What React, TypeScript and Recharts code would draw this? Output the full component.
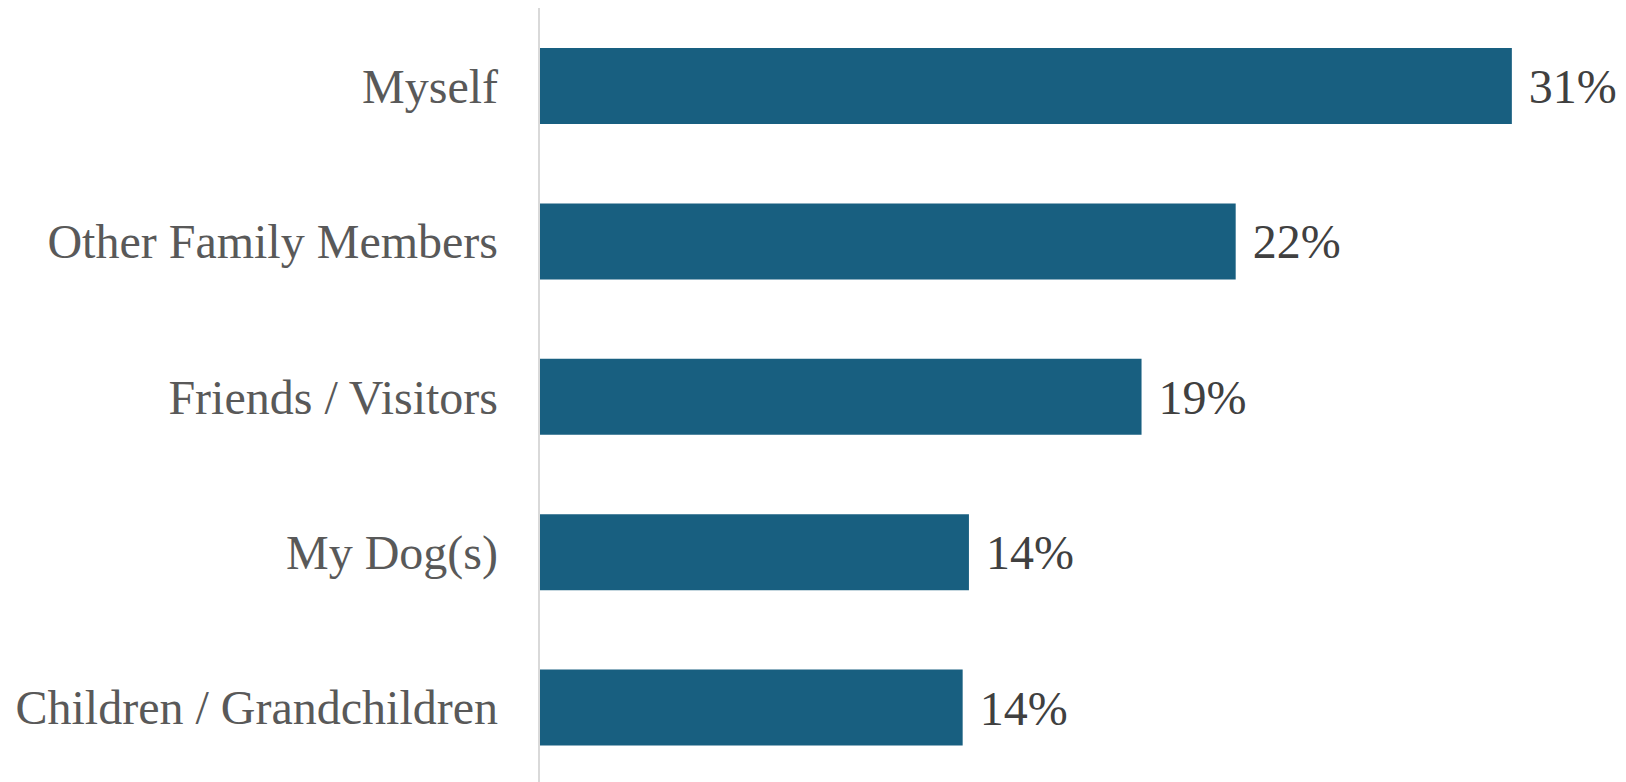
import React from 'react';
import { BarChart, Bar, XAxis, YAxis, LabelList } from 'recharts';

const categories = ['Myself', 'Other Family Members', 'Friends / Visitors', 'My Dog(s)', 'Children / Grandchildren'];
const shares = [31, 22.2, 19.2, 13.7, 13.5];

const data = categories.map((name, i) => ({ name, share: shares[i] }));

const FONT = '"Liberation Serif", "Times New Roman", serif';

export default function App() {
  return (
    <div style={{ position: 'absolute', top: 0, left: 0, width: 1626, height: 782, overflow: 'hidden', background: '#fff' }}>
      <BarChart
        width={1626}
        height={785}
        data={data}
        layout="vertical"
        margin={{ top: 8, right: 20, bottom: 0, left: 0 }}
      >
        <XAxis type="number" domain={[0, 34]} hide />
        <YAxis
          type="category"
          dataKey="name"
          width={539}
          axisLine={{ stroke: '#d9d9d9', strokeWidth: 2 }}
          tickLine={false}
          tickSize={0}
          tickMargin={41}
          tick={{ fill: '#595959', fontSize: 48, fontFamily: FONT }}
        />
        <Bar dataKey="share" fill="#185f80" barSize={76} isAnimationActive={false}>
          <LabelList
            dataKey="share"
            position="right"
            offset={17}
            formatter={(v: number) => `${Math.round(v)}%`}
            style={{ fill: '#404040', fontSize: 48, fontFamily: FONT }}
          />
        </Bar>
      </BarChart>
    </div>
  );
}
